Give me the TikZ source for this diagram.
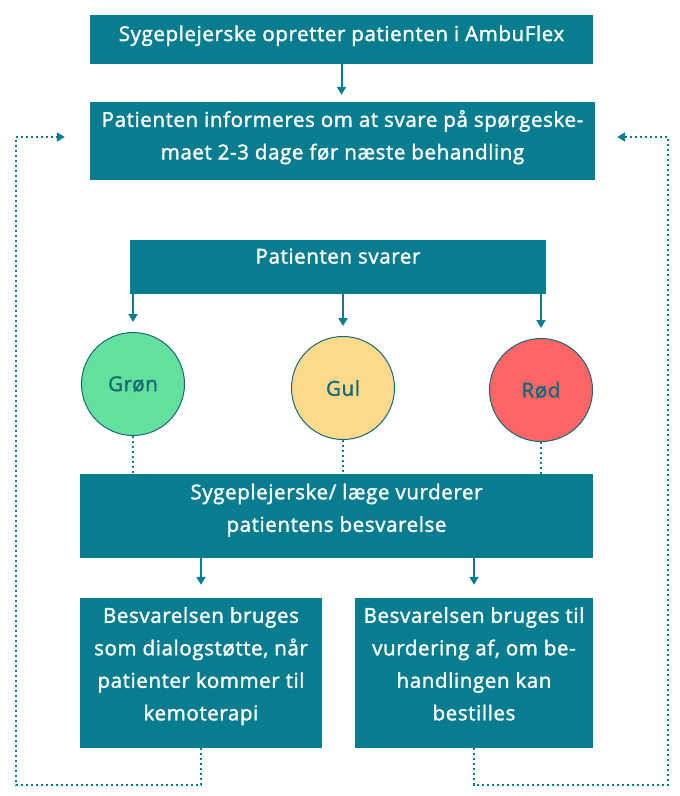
\documentclass[tikz,border=0pt]{standalone}
\usepackage{fontspec}
\setmainfont{Open Sans}[FakeBold=1.6, LetterSpace=3]
\usepackage{xcolor}
\usetikzlibrary{arrows.meta, positioning, calc}

\definecolor{boxteal}{RGB}{7,125,143}
\definecolor{ringteal}{RGB}{24,104,120}
\definecolor{gronfill}{RGB}{98,225,158}
\definecolor{gulfill}{RGB}{252,217,139}
\definecolor{rodfill}{RGB}{255,101,101}

\begin{document}
\begin{tikzpicture}[x=1pt, y=-1pt,
    stepbox/.style={fill=boxteal, text=white, align=center, inner sep=0pt,
                    font=\fontsize{20.5}{32.5}\selectfont},
    light/.style={circle, draw=ringteal, line width=1pt, minimum size=103pt,
                  text=ringteal, font=\fontsize{20.5}{22}\selectfont},
    flowarrow/.style={-{Triangle[length=8pt, width=9pt]}, line width=2pt, boxteal},
    looparrow/.style={-{Triangle[length=8pt, width=9pt]}, line width=2pt, boxteal,
                      dash pattern=on 2pt off 3pt},
    linkline/.style={line width=2pt, boxteal, dash pattern=on 2pt off 3pt},
]
\useasboundingbox (0,0) rectangle (680,796);

% --- Boxes, top to bottom ---
\node[stepbox, minimum width=503pt, minimum height=49pt, text depth=12.5pt]
    (create) at (341.5, 39.5) {Sygeplejerske opretter patienten i AmbuFlex};
\node[stepbox, minimum width=505pt, minimum height=78pt, text depth=12.5pt]
    (plan) at (342.5, 141) {Patienten informeres om at svare på spørgeske-\\maet 2-3 dage før næste behandling};
\node[stepbox, minimum width=416pt, minimum height=54pt, text depth=22pt]
    (answer) at (338, 267) {Patienten svarer};

% --- Traffic lights ---
\node[light, fill=gronfill] (gron) at (133, 384) {Grøn};
\node[light, fill=gulfill]  (gul)  at (343, 388) {Gul};
\node[light, fill=rodfill]  (rod)  at (541, 390) {Rød};

\node[stepbox, minimum width=513pt, minimum height=84pt, text depth=16.5pt]
    (assess) at (336.5, 516) {Sygeplejerske/ læge vurderer\\patientens besvarelse};
\node[stepbox, minimum width=242pt, minimum height=150pt, text depth=18.5pt]
    (dialog) at (201, 673) {Besvarelsen bruges\\som dialogstøtte, når\\patienter kommer til\\kemoterapi};
\node[stepbox, minimum width=238pt, minimum height=150pt, text depth=18.5pt]
    (order) at (474, 673) {Besvarelsen bruges til\\vurdering af, om be-\\handlingen kan\\bestilles};

% ===================== EDGES =====================

% create -> plan
\draw[flowarrow, shorten >=7pt] (create.south) -- (create.south |- plan.north);

% answer -> the three lights
\draw[flowarrow, shorten >=10pt] (answer.south -| gron) -- (gron.north);
\draw[flowarrow, shorten >=10pt] (answer.south -| gul) -- (gul.north);
\draw[flowarrow, shorten >=10pt] (answer.south -| rod) -- (rod.north);

% lights -> assessment (dotted)
\draw[linkline] (gron.south) -- (gron |- assess.north);
\draw[linkline] (gul.south) -- (gul |- assess.north);
\draw[linkline] (rod.south) -- (rod |- assess.north);

% assessment -> the two uses
\draw[flowarrow, shorten >=13pt] (assess.south -| dialog) -- (dialog.north);
\draw[flowarrow, shorten >=13pt] (assess.south -| order) -- (order.north);

% feedback loops back to plan, routed outside
\coordinate (loopL) at (16, 785);
\coordinate (loopR) at (668, 785);
\draw[looparrow, shorten >=25pt] (dialog.south) |- (loopL) |- ([yshift=4pt]plan.west);
\draw[looparrow, shorten >=22pt] (order.south) |- (loopR) |- ([yshift=4pt]plan.east);

\end{tikzpicture}
\end{document}
